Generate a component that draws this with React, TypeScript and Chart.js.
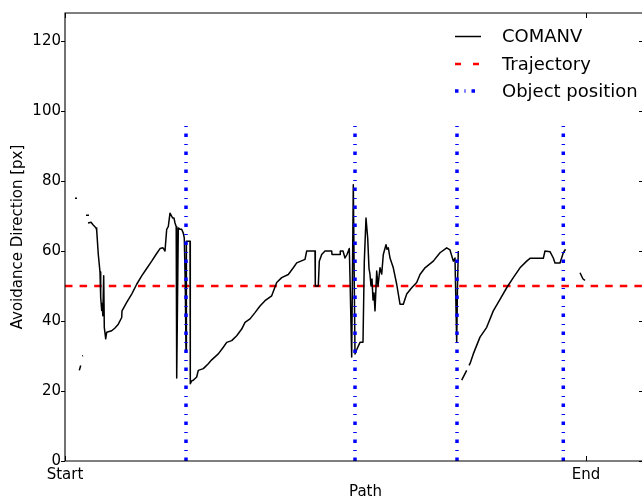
import React, { useEffect, useRef } from "react";
import { Chart, registerables } from "chart.js";

Chart.register(...registerables);

// ---------- data ----------
const xTickValues = [0, 521];
const xTickLabels = ["Start", "End"];
const yTickValues = [0, 20, 40, 60, 80, 100, 120];
const X_MAX = 601;
const Y_MAX = 128;

const seriesLabels = ["COMANV", "Trajectory", "Object position"];

// COMANV path position (null value = gap in the recording)
const comanvPos = [
  10, 12, 13,
  14.3, 15.7, 16.5,
  17.3, 18, 19,
  21, 24, 23,
  23, 26, 28, 31, 31.7, 33.3, 35, 35.7, 36.7, 37.3, 37.8, 38.7, 39.3, 40.7, 41.7,
  46.7, 50, 53.3, 56.7, 57, 61.7, 66.7, 71.7, 76.7, 81.7, 86.7, 91, 95, 98, 100,
  101.7, 103.3, 105, 107.7, 109, 110, 111.2, 111.7, 112.5, 113.3, 115, 116.7, 118.3,
  119.3, 120.3, 121, 121.4, 125, 125.3, 127, 128, 131.7, 133.3, 138.3, 143.3, 146.7,
  153.3, 158.3, 161.7, 166.7, 171.7, 176.7, 180, 185, 190, 195, 200, 206.7, 211.7,
  216.7, 223.3, 228.3, 231.7, 240, 241.7, 250, 250.3, 253.3, 254.3, 256.7, 260,
  266.7, 267, 275, 275.3, 278, 280, 282, 284.3, 285, 286.7, 288.3, 290, 292, 295,
  298, 299.3, 301, 302.7, 304, 305, 306, 307, 308, 309, 310, 311.7, 313, 315, 316.7,
  318.3, 321, 322, 323.3, 325, 328.3, 331.7, 335, 338.3, 341.7, 346.7, 351.7, 355,
  360, 368.3, 375, 381.7, 385, 388.3, 390, 391.7, 392.5, 393.3, 395,
  396.7, 401.7, 403,
  404, 405, 408.3, 415, 421.7, 428.3, 435, 441.7, 448.3, 455, 461.7, 465, 478.3,
  480, 485, 488.3, 490, 495, 498.3, 500.5, 508,
  515, 518, 520,
];
const comanvVal = [
  75.1, 75.1, null,
  25.9, 27.3, null,
  30, 30.1, null,
  70.2, 70.2, null,
  68, 68.2, 67.5, 66.6, 65.9, 59, 54, 46.7, 43, 45, 41.5, 52.9, 38.2, 34.9, 36.8,
  37.2, 38, 39.1, 41, 42.9, 45.3, 47.7, 50.5, 52.9, 55, 57.1, 59, 60.7, 60.9, 60,
  66.2, 67, 70.8, 69.4, 69.4, 68, 67, 23.7, 45, 66.6, 66.2, 66.2, 65.1,
  63.7, 50, 31.1, 62.8, 62.8, 22.1, 23, 23, 24, 25.9, 26.4, 27.8, 28.9,
  30.6, 32.5, 33.9, 34.4, 35.8, 37.7, 39.6, 40.6, 42.4, 44.3, 45.8, 47.2, 51,
  52.4, 53.3, 55.2, 56.6, 57.6, 60, 60, 50, 50, 57.1, 59, 60,
  60, 59, 59, 60, 60, 58, 59, 60.7, 52.4, 29.7, 78.9, 30.6, 32, 33.9,
  33.9, 57, 69.4, 63.7, 55, 53.3, 50, 52, 46, 48, 42.9, 54.3, 50, 55.2, 53.4,
  59, 61.8, 60.5, 60.9, 58, 55.2, 50.5, 44.8, 44.8, 47.7, 49.5, 51, 53.3,
  55.2, 57.1, 59.5, 60.9, 60.3, 57.1, 58, 33.9, 50, 60, null,
  23.1, 25.9, null,
  27.3, 27.8, 30.6, 35.4, 38.2, 42.9, 46.2, 49.5, 52.4, 55.2, 57.1, 57.9, 57.9,
  60, 59.8, 58, 56.6, 56.6, 59.5, 60.5, null,
  53.8, 52, 51.6,
];

const trajectoryValue = 50;
const objectPositions = [121, 290, 392, 498.3];
const objectMarkerTop = 97;

// ---------- styles ----------
const FONT = "'DejaVu Sans', sans-serif";
const BLACK_W = 1.5;
const RED = "#ff0000";
const RED_W = 2.6;
const RED_DASH = [7.5, 7.1];
const BLUE = "#0000ff";
const BLUE_W = 3.5;
const BLUE_DASH = [3.6, 6.4, 1, 7];
const VISIBLE_RIGHT = 642;

const frameAndLegend = {
  id: "frameAndLegend",
  afterDraw(chart: any) {
    const { ctx, chartArea } = chart;
    const { left, right, top, bottom } = chartArea;
    const xs = chart.scales.x;
    const ys = chart.scales.y;
    ctx.save();
    ctx.strokeStyle = "#000";
    ctx.lineWidth = 1.1;
    ctx.setLineDash([]);
    ctx.beginPath();
    ctx.moveTo(left, top);
    ctx.lineTo(right, top);
    ctx.lineTo(right, bottom);
    ctx.lineTo(left, bottom);
    ctx.closePath();
    ctx.stroke();
    // ticks
    ctx.lineWidth = 1;
    ctx.beginPath();
    for (const v of xTickValues) {
      const px = Math.round(xs.getPixelForValue(v)) + 0.5;
      ctx.moveTo(px, bottom);
      ctx.lineTo(px, bottom - 5);
      ctx.moveTo(px, top);
      ctx.lineTo(px, top + 5);
    }
    for (const v of yTickValues) {
      const py = Math.round(ys.getPixelForValue(v)) + 0.5;
      ctx.moveTo(left, py);
      ctx.lineTo(left - 4, py);
      // mirrored ticks of the right-hand axis (just at the visible edge)
      ctx.moveTo(VISIBLE_RIGHT, py);
      ctx.lineTo(VISIBLE_RIGHT - 3, py);
    }
    ctx.stroke();

    // legend
    const hx0 = VISIBLE_RIGHT - 187;
    const hx1 = VISIBLE_RIGHT - 161;
    const tx = VISIBLE_RIGHT - 140;
    const rows = [top + 23.5, top + 51, top + 78];
    const styles = [
      { color: "#000", width: BLACK_W, dash: [] as number[] },
      { color: RED, width: RED_W, dash: [6, 12] },
      { color: BLUE, width: BLUE_W, dash: [3.5, 6, 1, 6] },
    ];
    ctx.font = `18px ${FONT}`;
    ctx.textBaseline = "middle";
    ctx.textAlign = "left";
    seriesLabels.forEach((lab, i) => {
      const y = rows[i];
      const st = styles[i];
      ctx.beginPath();
      ctx.strokeStyle = st.color;
      ctx.lineWidth = st.width;
      ctx.lineCap = "butt";
      ctx.setLineDash(st.dash);
      ctx.moveTo(hx0, y);
      ctx.lineTo(hx1, y);
      ctx.stroke();
      ctx.setLineDash([]);
      ctx.fillStyle = "#000";
      ctx.fillText(lab, tx, y + 1);
    });
    ctx.restore();
  },
};

export default function App() {
  const canvasRef = useRef<HTMLCanvasElement | null>(null);

  useEffect(() => {
    const canvas = canvasRef.current;
    if (!canvas) return;

    const comanvData = comanvPos.map((x, i) => ({ x, y: comanvVal[i] }));
    const trajData = [
      { x: 0, y: trajectoryValue },
      { x: X_MAX, y: trajectoryValue },
    ];
    const objectSets = objectPositions.map((p) => ({
      label: seriesLabels[2],
      data: [
        { x: p, y: 0 },
        { x: p, y: objectMarkerTop },
      ],
      borderColor: BLUE,
      borderWidth: BLUE_W,
      borderDash: BLUE_DASH,
      borderCapStyle: "butt" as const,
      pointRadius: 0,
      fill: false,
      order: 0,
    }));

    const chart = new Chart(canvas, {
      type: "line",
      data: {
        datasets: [
          ...objectSets,
          {
            label: seriesLabels[0],
            data: comanvData,
            borderColor: "#000",
            borderWidth: BLACK_W,
            borderJoinStyle: "round",
            pointRadius: 0,
            fill: false,
            spanGaps: false,
            order: 1,
          },
          {
            label: seriesLabels[1],
            data: trajData,
            borderColor: RED,
            borderWidth: RED_W,
            borderDash: RED_DASH,
            borderCapStyle: "butt",
            pointRadius: 0,
            fill: false,
            order: 2,
          },
        ] as any,
      },
      options: {
        responsive: false,
        maintainAspectRatio: false,
        animation: false,
        devicePixelRatio: 1,
        events: [],
        layout: { padding: { left: 0, right: 14, top: 10, bottom: 0 } },
        plugins: {
          legend: { display: false },
          tooltip: { enabled: false },
        },
        scales: {
          x: {
            type: "linear",
            min: 0,
            max: X_MAX,
            grid: { display: false, drawTicks: false },
            border: { display: false },
            afterBuildTicks: (s: any) => {
              s.ticks = xTickValues.map((v) => ({ value: v }));
            },
            afterFit: (s: any) => {
              s.height = 43;
            },
            ticks: {
              autoSkip: false,
              maxRotation: 0,
              padding: 5,
              color: "#000",
              font: { family: FONT, size: 15 },
              callback: (_v: any, i: number) => xTickLabels[i],
            },
            title: {
              display: true,
              text: "Path",
              color: "#000",
              font: { family: FONT, size: 15 },
              padding: { top: 0, bottom: 2.5 },
            },
          },
          y: {
            type: "linear",
            min: 0,
            max: Y_MAX,
            grid: { display: false, drawTicks: false },
            border: { display: false },
            afterBuildTicks: (s: any) => {
              s.ticks = yTickValues.map((v) => ({ value: v }));
            },
            afterFit: (s: any) => {
              s.width = 65;
            },
            ticks: {
              padding: 4,
              color: "#000",
              font: { family: FONT, size: 15 },
            },
            title: {
              display: true,
              text: "Avoidance Direction [px]",
              color: "#000",
              font: { family: FONT, size: 15 },
              padding: { top: 9, bottom: 0 },
            },
          },
        },
      } as any,
      plugins: [frameAndLegend],
    });

    return () => chart.destroy();
  }, []);

  return (
    <div
      style={{
        position: "fixed",
        left: 0,
        top: 0,
        width: 642,
        height: 504,
        overflow: "hidden",
        background: "#fff",
      }}
    >
      <canvas
        ref={canvasRef}
        width={680}
        height={504}
        style={{ display: "block", width: 680, height: 504 }}
      />
    </div>
  );
}
